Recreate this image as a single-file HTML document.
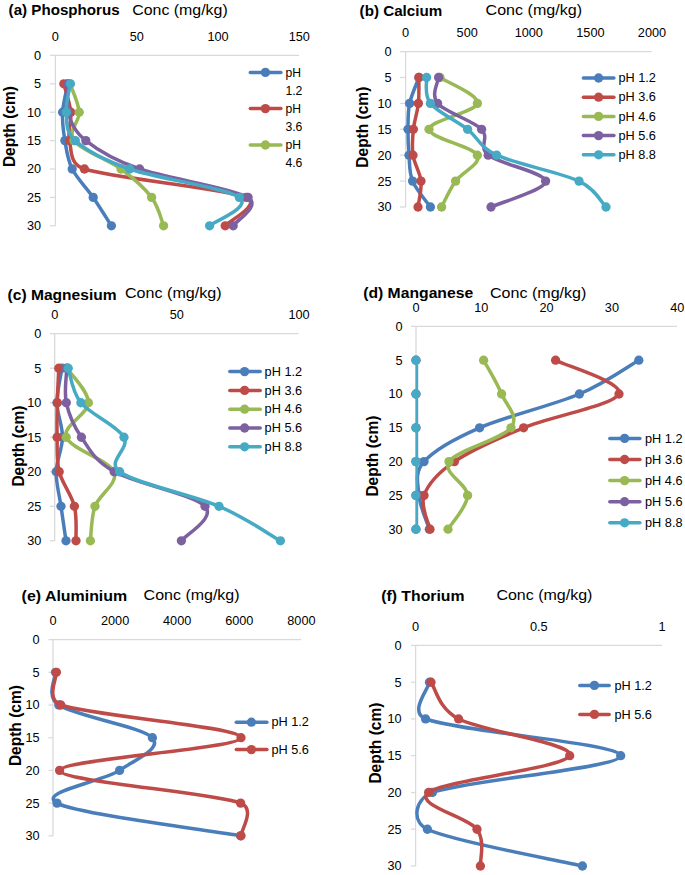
<!DOCTYPE html>
<html><head><meta charset="utf-8"><title>Soil profiles</title>
<style>
html,body{margin:0;padding:0;background:#fff;}
svg{display:block;font-family:"Liberation Sans",sans-serif;}
text{fill:#000;}
</style></head>
<body>
<svg width="685" height="875" viewBox="0 0 685 875">
<rect width="685" height="875" fill="#fff"/>
<text x="8.60" y="14.60" font-size="15.50" font-weight="bold" text-anchor="start" textLength="111.0" lengthAdjust="spacingAndGlyphs">(a) Phosphorus</text>
<text x="132.20" y="14.80" font-size="15.30" text-anchor="start" textLength="95.5" lengthAdjust="spacingAndGlyphs">Conc (mg/kg)</text>
<text x="55.40" y="41.00" font-size="13.50" text-anchor="middle" textLength="7.1" lengthAdjust="spacingAndGlyphs">0</text>
<text x="136.70" y="41.00" font-size="13.50" text-anchor="middle" textLength="14.1" lengthAdjust="spacingAndGlyphs">50</text>
<text x="218.00" y="41.00" font-size="13.50" text-anchor="middle" textLength="21.2" lengthAdjust="spacingAndGlyphs">100</text>
<text x="299.30" y="41.00" font-size="13.50" text-anchor="middle" textLength="21.2" lengthAdjust="spacingAndGlyphs">150</text>
<path d="M50.0,55.4H299.0" stroke="#D9D9D9" stroke-width="1.25" fill="none"/>
<path d="M55.4,55.4V225.8" stroke="#D9D9D9" stroke-width="1.25" fill="none"/>
<path d="M50.0,83.8H55.4" stroke="#D9D9D9" stroke-width="1.25" fill="none"/>
<path d="M50.0,112.2H55.4" stroke="#D9D9D9" stroke-width="1.25" fill="none"/>
<path d="M50.0,140.6H55.4" stroke="#D9D9D9" stroke-width="1.25" fill="none"/>
<path d="M50.0,169.0H55.4" stroke="#D9D9D9" stroke-width="1.25" fill="none"/>
<path d="M50.0,197.4H55.4" stroke="#D9D9D9" stroke-width="1.25" fill="none"/>
<path d="M50.0,225.8H55.4" stroke="#D9D9D9" stroke-width="1.25" fill="none"/>
<text x="41.00" y="59.80" font-size="13.50" text-anchor="end" textLength="7.1" lengthAdjust="spacingAndGlyphs">0</text>
<text x="41.00" y="88.20" font-size="13.50" text-anchor="end" textLength="7.1" lengthAdjust="spacingAndGlyphs">5</text>
<text x="41.00" y="116.60" font-size="13.50" text-anchor="end" textLength="14.1" lengthAdjust="spacingAndGlyphs">10</text>
<text x="41.00" y="145.00" font-size="13.50" text-anchor="end" textLength="14.1" lengthAdjust="spacingAndGlyphs">15</text>
<text x="41.00" y="173.40" font-size="13.50" text-anchor="end" textLength="14.1" lengthAdjust="spacingAndGlyphs">20</text>
<text x="41.00" y="201.80" font-size="13.50" text-anchor="end" textLength="14.1" lengthAdjust="spacingAndGlyphs">25</text>
<text x="41.00" y="230.20" font-size="13.50" text-anchor="end" textLength="14.1" lengthAdjust="spacingAndGlyphs">30</text>
<text transform="translate(14.90,126.60) rotate(-90)" x="0" y="0" font-size="16.50" font-weight="bold" text-anchor="middle" textLength="81" lengthAdjust="spacingAndGlyphs">Depth (cm)</text>
<path d="M68.00,83.80 C67.10,88.53 63.12,102.73 62.60,112.20 C62.08,121.67 63.30,131.13 64.90,140.60 C66.50,150.07 67.48,159.53 72.20,169.00 C76.92,178.47 86.67,187.93 93.20,197.40 C99.73,206.87 108.37,221.07 111.40,225.80" stroke="#4A7EBB" stroke-width="3.50" fill="none" stroke-linejoin="round" stroke-linecap="round"/>
<circle cx="68.00" cy="83.80" r="4.65" fill="#4A7EBB"/>
<circle cx="62.60" cy="112.20" r="4.65" fill="#4A7EBB"/>
<circle cx="64.90" cy="140.60" r="4.65" fill="#4A7EBB"/>
<circle cx="72.20" cy="169.00" r="4.65" fill="#4A7EBB"/>
<circle cx="93.20" cy="197.40" r="4.65" fill="#4A7EBB"/>
<circle cx="111.40" cy="225.80" r="4.65" fill="#4A7EBB"/>
<path d="M63.80,83.80 C64.97,88.53 69.85,102.73 70.80,112.20 C71.75,121.67 67.23,131.13 69.50,140.60 C71.77,150.07 69.13,164.10 84.40,169.00 C113.87,178.47 222.83,187.93 246.30,197.40 C262.71,204.02 228.72,221.07 225.20,225.80" stroke="#BE4B48" stroke-width="3.50" fill="none" stroke-linejoin="round" stroke-linecap="round"/>
<circle cx="63.80" cy="83.80" r="4.65" fill="#BE4B48"/>
<circle cx="70.80" cy="112.20" r="4.65" fill="#BE4B48"/>
<circle cx="69.50" cy="140.60" r="4.65" fill="#BE4B48"/>
<circle cx="84.40" cy="169.00" r="4.65" fill="#BE4B48"/>
<circle cx="246.30" cy="197.40" r="4.65" fill="#BE4B48"/>
<circle cx="225.20" cy="225.80" r="4.65" fill="#BE4B48"/>
<path d="M70.00,83.80 C71.53,88.53 78.53,102.73 79.20,112.20 C79.87,121.67 67.03,131.13 74.00,140.60 C80.97,150.07 108.07,159.53 121.00,169.00 C133.93,178.47 144.50,187.93 151.60,197.40 C158.70,206.87 161.60,221.07 163.60,225.80" stroke="#98B954" stroke-width="3.50" fill="none" stroke-linejoin="round" stroke-linecap="round"/>
<circle cx="70.00" cy="83.80" r="4.65" fill="#98B954"/>
<circle cx="79.20" cy="112.20" r="4.65" fill="#98B954"/>
<circle cx="74.00" cy="140.60" r="4.65" fill="#98B954"/>
<circle cx="121.00" cy="169.00" r="4.65" fill="#98B954"/>
<circle cx="151.60" cy="197.40" r="4.65" fill="#98B954"/>
<circle cx="163.60" cy="225.80" r="4.65" fill="#98B954"/>
<path d="M68.00,83.80 C68.00,88.53 65.03,102.73 68.00,112.20 C70.97,121.67 73.87,131.13 85.80,140.60 C97.73,150.07 112.55,159.53 139.60,169.00 C166.65,178.47 232.50,187.93 248.10,197.40 C261.81,205.72 235.68,221.07 233.20,225.80" stroke="#7D60A0" stroke-width="3.50" fill="none" stroke-linejoin="round" stroke-linecap="round"/>
<circle cx="68.00" cy="83.80" r="4.65" fill="#7D60A0"/>
<circle cx="68.00" cy="112.20" r="4.65" fill="#7D60A0"/>
<circle cx="85.80" cy="140.60" r="4.65" fill="#7D60A0"/>
<circle cx="139.60" cy="169.00" r="4.65" fill="#7D60A0"/>
<circle cx="248.10" cy="197.40" r="4.65" fill="#7D60A0"/>
<circle cx="233.20" cy="225.80" r="4.65" fill="#7D60A0"/>
<path d="M70.40,83.80 C69.73,88.53 65.58,102.73 66.40,112.20 C67.22,121.67 64.77,131.13 75.30,140.60 C85.83,150.07 102.27,159.53 129.60,169.00 C156.93,178.47 225.97,187.93 239.30,197.40 C252.63,206.87 214.55,221.07 209.60,225.80" stroke="#46AAC5" stroke-width="3.50" fill="none" stroke-linejoin="round" stroke-linecap="round"/>
<circle cx="70.40" cy="83.80" r="4.65" fill="#46AAC5"/>
<circle cx="66.40" cy="112.20" r="4.65" fill="#46AAC5"/>
<circle cx="75.30" cy="140.60" r="4.65" fill="#46AAC5"/>
<circle cx="129.60" cy="169.00" r="4.65" fill="#46AAC5"/>
<circle cx="239.30" cy="197.40" r="4.65" fill="#46AAC5"/>
<circle cx="209.60" cy="225.80" r="4.65" fill="#46AAC5"/>
<path d="M250.3,72.4H280.9" stroke="#4A7EBB" stroke-width="3.50" fill="none" stroke-linecap="round"/>
<circle cx="265.40" cy="72.40" r="4.65" fill="#4A7EBB"/>
<text x="285.40" y="76.50" font-size="13.00" text-anchor="start" textLength="15.5" lengthAdjust="spacingAndGlyphs">pH</text>
<text x="285.40" y="94.65" font-size="13.00" text-anchor="start" textLength="17.0" lengthAdjust="spacingAndGlyphs">1.2</text>
<path d="M250.3,108.6H280.9" stroke="#BE4B48" stroke-width="3.50" fill="none" stroke-linecap="round"/>
<circle cx="265.40" cy="108.60" r="4.65" fill="#BE4B48"/>
<text x="285.40" y="112.70" font-size="13.00" text-anchor="start" textLength="15.5" lengthAdjust="spacingAndGlyphs">pH</text>
<text x="285.40" y="130.85" font-size="13.00" text-anchor="start" textLength="17.0" lengthAdjust="spacingAndGlyphs">3.6</text>
<path d="M250.3,145.0H280.9" stroke="#98B954" stroke-width="3.50" fill="none" stroke-linecap="round"/>
<circle cx="265.40" cy="145.00" r="4.65" fill="#98B954"/>
<text x="285.40" y="149.10" font-size="13.00" text-anchor="start" textLength="15.5" lengthAdjust="spacingAndGlyphs">pH</text>
<text x="285.40" y="167.25" font-size="13.00" text-anchor="start" textLength="17.0" lengthAdjust="spacingAndGlyphs">4.6</text>
<text x="359.60" y="15.90" font-size="15.50" font-weight="bold" text-anchor="start" textLength="82.6" lengthAdjust="spacingAndGlyphs">(b) Calcium</text>
<text x="485.60" y="15.00" font-size="15.30" text-anchor="start" textLength="96.4" lengthAdjust="spacingAndGlyphs">Conc (mg/kg)</text>
<text x="405.60" y="37.00" font-size="13.50" text-anchor="middle" textLength="7.1" lengthAdjust="spacingAndGlyphs">0</text>
<text x="467.20" y="37.00" font-size="13.50" text-anchor="middle" textLength="21.2" lengthAdjust="spacingAndGlyphs">500</text>
<text x="528.80" y="37.00" font-size="13.50" text-anchor="middle" textLength="28.3" lengthAdjust="spacingAndGlyphs">1000</text>
<text x="590.40" y="37.00" font-size="13.50" text-anchor="middle" textLength="28.3" lengthAdjust="spacingAndGlyphs">1500</text>
<text x="652.00" y="37.00" font-size="13.50" text-anchor="middle" textLength="28.3" lengthAdjust="spacingAndGlyphs">2000</text>
<path d="M400.0,51.6H651.6" stroke="#D9D9D9" stroke-width="1.25" fill="none"/>
<path d="M405.6,51.6V207.0" stroke="#D9D9D9" stroke-width="1.25" fill="none"/>
<path d="M400.0,77.5H405.6" stroke="#D9D9D9" stroke-width="1.25" fill="none"/>
<path d="M400.0,103.4H405.6" stroke="#D9D9D9" stroke-width="1.25" fill="none"/>
<path d="M400.0,129.3H405.6" stroke="#D9D9D9" stroke-width="1.25" fill="none"/>
<path d="M400.0,155.2H405.6" stroke="#D9D9D9" stroke-width="1.25" fill="none"/>
<path d="M400.0,181.1H405.6" stroke="#D9D9D9" stroke-width="1.25" fill="none"/>
<path d="M400.0,207.0H405.6" stroke="#D9D9D9" stroke-width="1.25" fill="none"/>
<text x="391.60" y="56.00" font-size="13.50" text-anchor="end" textLength="7.1" lengthAdjust="spacingAndGlyphs">0</text>
<text x="391.60" y="81.90" font-size="13.50" text-anchor="end" textLength="7.1" lengthAdjust="spacingAndGlyphs">5</text>
<text x="391.60" y="107.80" font-size="13.50" text-anchor="end" textLength="14.1" lengthAdjust="spacingAndGlyphs">10</text>
<text x="391.60" y="133.70" font-size="13.50" text-anchor="end" textLength="14.1" lengthAdjust="spacingAndGlyphs">15</text>
<text x="391.60" y="159.60" font-size="13.50" text-anchor="end" textLength="14.1" lengthAdjust="spacingAndGlyphs">20</text>
<text x="391.60" y="185.50" font-size="13.50" text-anchor="end" textLength="14.1" lengthAdjust="spacingAndGlyphs">25</text>
<text x="391.60" y="211.40" font-size="13.50" text-anchor="end" textLength="14.1" lengthAdjust="spacingAndGlyphs">30</text>
<text transform="translate(367.60,127.20) rotate(-90)" x="0" y="0" font-size="16.50" font-weight="bold" text-anchor="middle" textLength="81" lengthAdjust="spacingAndGlyphs">Depth (cm)</text>
<path d="M419.00,77.50 C417.43,81.82 411.43,94.77 409.60,103.40 C407.77,112.03 408.10,120.67 408.00,129.30 C407.90,137.93 408.23,146.57 409.00,155.20 C409.77,163.83 409.03,172.47 412.60,181.10 C416.17,189.73 427.43,202.68 430.40,207.00" stroke="#4A7EBB" stroke-width="3.50" fill="none" stroke-linejoin="round" stroke-linecap="round"/>
<circle cx="419.00" cy="77.50" r="4.65" fill="#4A7EBB"/>
<circle cx="409.60" cy="103.40" r="4.65" fill="#4A7EBB"/>
<circle cx="408.00" cy="129.30" r="4.65" fill="#4A7EBB"/>
<circle cx="409.00" cy="155.20" r="4.65" fill="#4A7EBB"/>
<circle cx="412.60" cy="181.10" r="4.65" fill="#4A7EBB"/>
<circle cx="430.40" cy="207.00" r="4.65" fill="#4A7EBB"/>
<path d="M418.80,77.50 C418.73,81.82 419.30,94.77 418.40,103.40 C417.50,112.03 414.30,120.67 413.40,129.30 C412.50,137.93 411.73,146.57 413.00,155.20 C414.27,163.83 420.17,172.47 421.00,181.10 C421.83,189.73 418.50,202.68 418.00,207.00" stroke="#BE4B48" stroke-width="3.50" fill="none" stroke-linejoin="round" stroke-linecap="round"/>
<circle cx="418.80" cy="77.50" r="4.65" fill="#BE4B48"/>
<circle cx="418.40" cy="103.40" r="4.65" fill="#BE4B48"/>
<circle cx="413.40" cy="129.30" r="4.65" fill="#BE4B48"/>
<circle cx="413.00" cy="155.20" r="4.65" fill="#BE4B48"/>
<circle cx="421.00" cy="181.10" r="4.65" fill="#BE4B48"/>
<circle cx="418.00" cy="207.00" r="4.65" fill="#BE4B48"/>
<path d="M440.00,77.50 C446.23,81.82 479.23,94.77 477.40,103.40 C475.57,112.03 429.00,120.67 429.00,129.30 C429.00,137.93 472.97,146.57 477.40,155.20 C481.83,163.83 461.57,172.47 455.60,181.10 C449.63,189.73 443.93,202.68 441.60,207.00" stroke="#98B954" stroke-width="3.50" fill="none" stroke-linejoin="round" stroke-linecap="round"/>
<circle cx="440.00" cy="77.50" r="4.65" fill="#98B954"/>
<circle cx="477.40" cy="103.40" r="4.65" fill="#98B954"/>
<circle cx="429.00" cy="129.30" r="4.65" fill="#98B954"/>
<circle cx="477.40" cy="155.20" r="4.65" fill="#98B954"/>
<circle cx="455.60" cy="181.10" r="4.65" fill="#98B954"/>
<circle cx="441.60" cy="207.00" r="4.65" fill="#98B954"/>
<path d="M438.60,77.50 C438.43,81.82 430.43,94.77 437.60,103.40 C444.77,112.03 473.17,120.67 481.60,129.30 C490.03,137.93 477.81,146.79 488.20,155.20 C498.87,163.83 545.13,172.47 545.60,181.10 C546.07,189.73 500.10,202.68 491.00,207.00" stroke="#7D60A0" stroke-width="3.50" fill="none" stroke-linejoin="round" stroke-linecap="round"/>
<circle cx="438.60" cy="77.50" r="4.65" fill="#7D60A0"/>
<circle cx="437.60" cy="103.40" r="4.65" fill="#7D60A0"/>
<circle cx="481.60" cy="129.30" r="4.65" fill="#7D60A0"/>
<circle cx="488.20" cy="155.20" r="4.65" fill="#7D60A0"/>
<circle cx="545.60" cy="181.10" r="4.65" fill="#7D60A0"/>
<circle cx="491.00" cy="207.00" r="4.65" fill="#7D60A0"/>
<path d="M426.60,77.50 C427.23,81.82 423.57,94.77 430.40,103.40 C437.23,112.03 456.55,120.67 467.60,129.30 C478.65,137.93 479.04,146.99 496.70,155.20 C515.27,163.83 560.78,172.47 579.00,181.10 C595.90,189.11 601.50,202.68 606.00,207.00" stroke="#46AAC5" stroke-width="3.50" fill="none" stroke-linejoin="round" stroke-linecap="round"/>
<circle cx="426.60" cy="77.50" r="4.65" fill="#46AAC5"/>
<circle cx="430.40" cy="103.40" r="4.65" fill="#46AAC5"/>
<circle cx="467.60" cy="129.30" r="4.65" fill="#46AAC5"/>
<circle cx="496.70" cy="155.20" r="4.65" fill="#46AAC5"/>
<circle cx="579.00" cy="181.10" r="4.65" fill="#46AAC5"/>
<circle cx="606.00" cy="207.00" r="4.65" fill="#46AAC5"/>
<path d="M583.4,78.0H613.9" stroke="#4A7EBB" stroke-width="3.50" fill="none" stroke-linecap="round"/>
<circle cx="598.60" cy="78.00" r="4.65" fill="#4A7EBB"/>
<text x="618.40" y="82.10" font-size="13.00" text-anchor="start" textLength="37.5" lengthAdjust="spacingAndGlyphs">pH 1.2</text>
<path d="M583.4,97.2H613.9" stroke="#BE4B48" stroke-width="3.50" fill="none" stroke-linecap="round"/>
<circle cx="598.60" cy="97.20" r="4.65" fill="#BE4B48"/>
<text x="618.40" y="101.30" font-size="13.00" text-anchor="start" textLength="37.5" lengthAdjust="spacingAndGlyphs">pH 3.6</text>
<path d="M583.4,116.4H613.9" stroke="#98B954" stroke-width="3.50" fill="none" stroke-linecap="round"/>
<circle cx="598.60" cy="116.40" r="4.65" fill="#98B954"/>
<text x="618.40" y="120.50" font-size="13.00" text-anchor="start" textLength="37.5" lengthAdjust="spacingAndGlyphs">pH 4.6</text>
<path d="M583.4,135.6H613.9" stroke="#7D60A0" stroke-width="3.50" fill="none" stroke-linecap="round"/>
<circle cx="598.60" cy="135.60" r="4.65" fill="#7D60A0"/>
<text x="618.40" y="139.70" font-size="13.00" text-anchor="start" textLength="37.5" lengthAdjust="spacingAndGlyphs">pH 5.6</text>
<path d="M583.4,154.8H613.9" stroke="#46AAC5" stroke-width="3.50" fill="none" stroke-linecap="round"/>
<circle cx="598.60" cy="154.80" r="4.65" fill="#46AAC5"/>
<text x="618.40" y="158.90" font-size="13.00" text-anchor="start" textLength="37.5" lengthAdjust="spacingAndGlyphs">pH 8.8</text>
<text x="7.60" y="299.90" font-size="15.50" font-weight="bold" text-anchor="start" textLength="109.0" lengthAdjust="spacingAndGlyphs">(c) Magnesium</text>
<text x="125.00" y="298.00" font-size="15.30" text-anchor="start" textLength="96.6" lengthAdjust="spacingAndGlyphs">Conc (mg/kg)</text>
<text x="54.70" y="319.00" font-size="13.50" text-anchor="middle" textLength="7.1" lengthAdjust="spacingAndGlyphs">0</text>
<text x="176.80" y="319.00" font-size="13.50" text-anchor="middle" textLength="14.1" lengthAdjust="spacingAndGlyphs">50</text>
<text x="299.00" y="319.00" font-size="13.50" text-anchor="middle" textLength="21.2" lengthAdjust="spacingAndGlyphs">100</text>
<path d="M50.0,333.7H298.6" stroke="#D9D9D9" stroke-width="1.25" fill="none"/>
<path d="M54.7,333.7V540.8" stroke="#D9D9D9" stroke-width="1.25" fill="none"/>
<path d="M50.0,368.2H54.7" stroke="#D9D9D9" stroke-width="1.25" fill="none"/>
<path d="M50.0,402.7H54.7" stroke="#D9D9D9" stroke-width="1.25" fill="none"/>
<path d="M50.0,437.2H54.7" stroke="#D9D9D9" stroke-width="1.25" fill="none"/>
<path d="M50.0,471.8H54.7" stroke="#D9D9D9" stroke-width="1.25" fill="none"/>
<path d="M50.0,506.3H54.7" stroke="#D9D9D9" stroke-width="1.25" fill="none"/>
<path d="M50.0,540.8H54.7" stroke="#D9D9D9" stroke-width="1.25" fill="none"/>
<text x="41.30" y="338.10" font-size="13.50" text-anchor="end" textLength="7.1" lengthAdjust="spacingAndGlyphs">0</text>
<text x="41.30" y="372.62" font-size="13.50" text-anchor="end" textLength="7.1" lengthAdjust="spacingAndGlyphs">5</text>
<text x="41.30" y="407.13" font-size="13.50" text-anchor="end" textLength="14.1" lengthAdjust="spacingAndGlyphs">10</text>
<text x="41.30" y="441.65" font-size="13.50" text-anchor="end" textLength="14.1" lengthAdjust="spacingAndGlyphs">15</text>
<text x="41.30" y="476.17" font-size="13.50" text-anchor="end" textLength="14.1" lengthAdjust="spacingAndGlyphs">20</text>
<text x="41.30" y="510.68" font-size="13.50" text-anchor="end" textLength="14.1" lengthAdjust="spacingAndGlyphs">25</text>
<text x="41.30" y="545.20" font-size="13.50" text-anchor="end" textLength="14.1" lengthAdjust="spacingAndGlyphs">30</text>
<text transform="translate(23.50,446.10) rotate(-90)" x="0" y="0" font-size="16.50" font-weight="bold" text-anchor="middle" textLength="81" lengthAdjust="spacingAndGlyphs">Depth (cm)</text>
<path d="M62.00,368.22 C61.17,373.97 56.92,391.23 57.00,402.73 C57.08,414.24 62.63,425.74 62.50,437.25 C62.37,448.76 56.45,460.26 56.20,471.77 C55.95,483.27 59.37,494.78 61.00,506.28 C62.63,517.79 65.17,535.05 66.00,540.80" stroke="#4A7EBB" stroke-width="3.50" fill="none" stroke-linejoin="round" stroke-linecap="round"/>
<circle cx="62.00" cy="368.22" r="4.65" fill="#4A7EBB"/>
<circle cx="57.00" cy="402.73" r="4.65" fill="#4A7EBB"/>
<circle cx="62.50" cy="437.25" r="4.65" fill="#4A7EBB"/>
<circle cx="56.20" cy="471.77" r="4.65" fill="#4A7EBB"/>
<circle cx="61.00" cy="506.28" r="4.65" fill="#4A7EBB"/>
<circle cx="66.00" cy="540.80" r="4.65" fill="#4A7EBB"/>
<path d="M58.80,368.22 C58.55,373.97 57.58,391.23 57.30,402.73 C57.02,414.24 56.78,425.74 57.10,437.25 C57.42,448.76 56.32,460.26 59.20,471.77 C62.08,483.27 71.60,494.78 74.40,506.28 C77.20,517.79 75.73,535.05 76.00,540.80" stroke="#BE4B48" stroke-width="3.50" fill="none" stroke-linejoin="round" stroke-linecap="round"/>
<circle cx="58.80" cy="368.22" r="4.65" fill="#BE4B48"/>
<circle cx="57.30" cy="402.73" r="4.65" fill="#BE4B48"/>
<circle cx="57.10" cy="437.25" r="4.65" fill="#BE4B48"/>
<circle cx="59.20" cy="471.77" r="4.65" fill="#BE4B48"/>
<circle cx="74.40" cy="506.28" r="4.65" fill="#BE4B48"/>
<circle cx="76.00" cy="540.80" r="4.65" fill="#BE4B48"/>
<path d="M67.00,368.22 C70.57,373.97 88.53,391.23 88.40,402.73 C88.27,414.24 61.93,425.74 66.20,437.25 C70.47,448.76 109.20,460.26 114.00,471.77 C118.80,483.27 98.93,494.78 95.00,506.28 C91.07,517.79 91.17,535.05 90.40,540.80" stroke="#98B954" stroke-width="3.50" fill="none" stroke-linejoin="round" stroke-linecap="round"/>
<circle cx="67.00" cy="368.22" r="4.65" fill="#98B954"/>
<circle cx="88.40" cy="402.73" r="4.65" fill="#98B954"/>
<circle cx="66.20" cy="437.25" r="4.65" fill="#98B954"/>
<circle cx="114.00" cy="471.77" r="4.65" fill="#98B954"/>
<circle cx="95.00" cy="506.28" r="4.65" fill="#98B954"/>
<circle cx="90.40" cy="540.80" r="4.65" fill="#98B954"/>
<path d="M66.80,368.22 C66.72,373.97 63.87,391.23 66.30,402.73 C68.73,414.24 73.38,425.74 81.40,437.25 C89.42,448.76 93.80,460.26 114.40,471.77 C135.00,483.27 193.83,494.78 205.00,506.28 C216.17,517.79 185.33,535.05 181.40,540.80" stroke="#7D60A0" stroke-width="3.50" fill="none" stroke-linejoin="round" stroke-linecap="round"/>
<circle cx="66.80" cy="368.22" r="4.65" fill="#7D60A0"/>
<circle cx="66.30" cy="402.73" r="4.65" fill="#7D60A0"/>
<circle cx="81.40" cy="437.25" r="4.65" fill="#7D60A0"/>
<circle cx="114.40" cy="471.77" r="4.65" fill="#7D60A0"/>
<circle cx="205.00" cy="506.28" r="4.65" fill="#7D60A0"/>
<circle cx="181.40" cy="540.80" r="4.65" fill="#7D60A0"/>
<path d="M68.20,368.22 C70.32,373.97 71.60,391.23 80.90,402.73 C90.20,414.24 117.55,425.74 124.00,437.25 C130.45,448.76 105.53,461.54 119.60,471.77 C135.43,483.27 192.20,494.78 219.00,506.28 C245.80,517.79 270.17,535.05 280.40,540.80" stroke="#46AAC5" stroke-width="3.50" fill="none" stroke-linejoin="round" stroke-linecap="round"/>
<circle cx="68.20" cy="368.22" r="4.65" fill="#46AAC5"/>
<circle cx="80.90" cy="402.73" r="4.65" fill="#46AAC5"/>
<circle cx="124.00" cy="437.25" r="4.65" fill="#46AAC5"/>
<circle cx="119.60" cy="471.77" r="4.65" fill="#46AAC5"/>
<circle cx="219.00" cy="506.28" r="4.65" fill="#46AAC5"/>
<circle cx="280.40" cy="540.80" r="4.65" fill="#46AAC5"/>
<path d="M229.8,371.6H260.2" stroke="#4A7EBB" stroke-width="3.50" fill="none" stroke-linecap="round"/>
<circle cx="244.60" cy="371.60" r="4.65" fill="#4A7EBB"/>
<text x="264.60" y="375.70" font-size="13.00" text-anchor="start" textLength="37.5" lengthAdjust="spacingAndGlyphs">pH 1.2</text>
<path d="M229.8,390.4H260.2" stroke="#BE4B48" stroke-width="3.50" fill="none" stroke-linecap="round"/>
<circle cx="244.60" cy="390.40" r="4.65" fill="#BE4B48"/>
<text x="264.60" y="394.50" font-size="13.00" text-anchor="start" textLength="37.5" lengthAdjust="spacingAndGlyphs">pH 3.6</text>
<path d="M229.8,409.2H260.2" stroke="#98B954" stroke-width="3.50" fill="none" stroke-linecap="round"/>
<circle cx="244.60" cy="409.20" r="4.65" fill="#98B954"/>
<text x="264.60" y="413.30" font-size="13.00" text-anchor="start" textLength="37.5" lengthAdjust="spacingAndGlyphs">pH 4.6</text>
<path d="M229.8,428.0H260.2" stroke="#7D60A0" stroke-width="3.50" fill="none" stroke-linecap="round"/>
<circle cx="244.60" cy="428.00" r="4.65" fill="#7D60A0"/>
<text x="264.60" y="432.10" font-size="13.00" text-anchor="start" textLength="37.5" lengthAdjust="spacingAndGlyphs">pH 5.6</text>
<path d="M229.8,446.8H260.2" stroke="#46AAC5" stroke-width="3.50" fill="none" stroke-linecap="round"/>
<circle cx="244.60" cy="446.80" r="4.65" fill="#46AAC5"/>
<text x="264.60" y="450.90" font-size="13.00" text-anchor="start" textLength="37.5" lengthAdjust="spacingAndGlyphs">pH 8.8</text>
<text x="363.20" y="298.30" font-size="15.50" font-weight="bold" text-anchor="start" textLength="110.0" lengthAdjust="spacingAndGlyphs">(d) Manganese</text>
<text x="490.00" y="297.60" font-size="15.30" text-anchor="start" textLength="96.4" lengthAdjust="spacingAndGlyphs">Conc (mg/kg)</text>
<text x="416.00" y="312.40" font-size="13.50" text-anchor="middle" textLength="7.1" lengthAdjust="spacingAndGlyphs">0</text>
<text x="481.30" y="312.40" font-size="13.50" text-anchor="middle" textLength="14.1" lengthAdjust="spacingAndGlyphs">10</text>
<text x="546.60" y="312.40" font-size="13.50" text-anchor="middle" textLength="14.1" lengthAdjust="spacingAndGlyphs">20</text>
<text x="611.90" y="312.40" font-size="13.50" text-anchor="middle" textLength="14.1" lengthAdjust="spacingAndGlyphs">30</text>
<text x="677.20" y="312.40" font-size="13.50" text-anchor="middle" textLength="14.1" lengthAdjust="spacingAndGlyphs">40</text>
<path d="M411.0,326.4H677.0" stroke="#D9D9D9" stroke-width="1.25" fill="none"/>
<path d="M416.0,326.4V529.2" stroke="#D9D9D9" stroke-width="1.25" fill="none"/>
<path d="M411.0,360.2H416.0" stroke="#D9D9D9" stroke-width="1.25" fill="none"/>
<path d="M411.0,394.0H416.0" stroke="#D9D9D9" stroke-width="1.25" fill="none"/>
<path d="M411.0,427.8H416.0" stroke="#D9D9D9" stroke-width="1.25" fill="none"/>
<path d="M411.0,461.6H416.0" stroke="#D9D9D9" stroke-width="1.25" fill="none"/>
<path d="M411.0,495.4H416.0" stroke="#D9D9D9" stroke-width="1.25" fill="none"/>
<path d="M411.0,529.2H416.0" stroke="#D9D9D9" stroke-width="1.25" fill="none"/>
<text x="402.60" y="330.80" font-size="13.50" text-anchor="end" textLength="7.1" lengthAdjust="spacingAndGlyphs">0</text>
<text x="402.60" y="364.60" font-size="13.50" text-anchor="end" textLength="7.1" lengthAdjust="spacingAndGlyphs">5</text>
<text x="402.60" y="398.40" font-size="13.50" text-anchor="end" textLength="14.1" lengthAdjust="spacingAndGlyphs">10</text>
<text x="402.60" y="432.20" font-size="13.50" text-anchor="end" textLength="14.1" lengthAdjust="spacingAndGlyphs">15</text>
<text x="402.60" y="466.00" font-size="13.50" text-anchor="end" textLength="14.1" lengthAdjust="spacingAndGlyphs">20</text>
<text x="402.60" y="499.80" font-size="13.50" text-anchor="end" textLength="14.1" lengthAdjust="spacingAndGlyphs">25</text>
<text x="402.60" y="533.60" font-size="13.50" text-anchor="end" textLength="14.1" lengthAdjust="spacingAndGlyphs">30</text>
<text transform="translate(378.30,456.10) rotate(-90)" x="0" y="0" font-size="16.50" font-weight="bold" text-anchor="middle" textLength="81" lengthAdjust="spacingAndGlyphs">Depth (cm)</text>
<path d="M638.80,360.20 C628.90,365.83 605.93,382.73 579.40,394.00 C552.87,405.27 505.50,416.53 479.60,427.80 C453.70,439.07 434.10,450.33 424.00,461.60 C413.90,472.87 418.12,484.13 419.00,495.40 C419.88,506.67 427.58,523.57 429.30,529.20" stroke="#4A7EBB" stroke-width="3.50" fill="none" stroke-linejoin="round" stroke-linecap="round"/>
<circle cx="638.80" cy="360.20" r="4.65" fill="#4A7EBB"/>
<circle cx="579.40" cy="394.00" r="4.65" fill="#4A7EBB"/>
<circle cx="479.60" cy="427.80" r="4.65" fill="#4A7EBB"/>
<circle cx="424.00" cy="461.60" r="4.65" fill="#4A7EBB"/>
<circle cx="419.00" cy="495.40" r="4.65" fill="#4A7EBB"/>
<circle cx="429.30" cy="529.20" r="4.65" fill="#4A7EBB"/>
<path d="M555.60,360.20 C566.17,365.83 624.33,382.73 619.00,394.00 C613.67,405.27 551.03,416.53 523.60,427.80 C496.17,439.07 471.00,450.33 454.40,461.60 C437.80,472.87 428.07,484.13 424.00,495.40 C419.93,506.67 429.00,523.57 430.00,529.20" stroke="#BE4B48" stroke-width="3.50" fill="none" stroke-linejoin="round" stroke-linecap="round"/>
<circle cx="555.60" cy="360.20" r="4.65" fill="#BE4B48"/>
<circle cx="619.00" cy="394.00" r="4.65" fill="#BE4B48"/>
<circle cx="523.60" cy="427.80" r="4.65" fill="#BE4B48"/>
<circle cx="454.40" cy="461.60" r="4.65" fill="#BE4B48"/>
<circle cx="424.00" cy="495.40" r="4.65" fill="#BE4B48"/>
<circle cx="430.00" cy="529.20" r="4.65" fill="#BE4B48"/>
<path d="M483.60,360.20 C486.60,365.83 497.03,382.73 501.60,394.00 C506.17,405.27 519.77,416.53 511.00,427.80 C502.23,439.07 456.23,450.33 449.00,461.60 C441.77,472.87 467.77,484.13 467.60,495.40 C467.43,506.67 451.27,523.57 448.00,529.20" stroke="#98B954" stroke-width="3.50" fill="none" stroke-linejoin="round" stroke-linecap="round"/>
<circle cx="483.60" cy="360.20" r="4.65" fill="#98B954"/>
<circle cx="501.60" cy="394.00" r="4.65" fill="#98B954"/>
<circle cx="511.00" cy="427.80" r="4.65" fill="#98B954"/>
<circle cx="449.00" cy="461.60" r="4.65" fill="#98B954"/>
<circle cx="467.60" cy="495.40" r="4.65" fill="#98B954"/>
<circle cx="448.00" cy="529.20" r="4.65" fill="#98B954"/>
<path d="M416.90,360.20 C416.90,365.83 416.90,382.73 416.90,394.00 C416.90,405.27 416.90,416.53 416.90,427.80 C416.90,439.07 416.90,450.33 416.90,461.60 C416.90,472.87 416.90,484.13 416.90,495.40 C416.90,506.67 416.90,523.57 416.90,529.20" stroke="#7D60A0" stroke-width="2.40" fill="none" stroke-linejoin="round" stroke-linecap="round"/>
<circle cx="416.00" cy="360.20" r="4.65" fill="#7D60A0"/>
<circle cx="416.00" cy="394.00" r="4.65" fill="#7D60A0"/>
<circle cx="416.00" cy="427.80" r="4.65" fill="#7D60A0"/>
<circle cx="416.00" cy="461.60" r="4.65" fill="#7D60A0"/>
<circle cx="416.00" cy="495.40" r="4.65" fill="#7D60A0"/>
<circle cx="416.00" cy="529.20" r="4.65" fill="#7D60A0"/>
<path d="M416.90,360.20 C416.90,365.83 416.90,382.73 416.90,394.00 C416.90,405.27 416.90,416.53 416.90,427.80 C416.90,439.07 416.90,450.33 416.90,461.60 C416.90,472.87 416.90,484.13 416.90,495.40 C416.90,506.67 416.90,523.57 416.90,529.20" stroke="#46AAC5" stroke-width="2.40" fill="none" stroke-linejoin="round" stroke-linecap="round"/>
<circle cx="415.90" cy="360.20" r="4.65" fill="#46AAC5"/>
<circle cx="415.90" cy="394.00" r="4.65" fill="#46AAC5"/>
<circle cx="415.90" cy="427.80" r="4.65" fill="#46AAC5"/>
<circle cx="415.90" cy="461.60" r="4.65" fill="#46AAC5"/>
<circle cx="415.90" cy="495.40" r="4.65" fill="#46AAC5"/>
<circle cx="415.90" cy="529.20" r="4.65" fill="#46AAC5"/>
<path d="M609.8,438.4H639.9" stroke="#4A7EBB" stroke-width="3.50" fill="none" stroke-linecap="round"/>
<circle cx="624.60" cy="438.40" r="4.65" fill="#4A7EBB"/>
<text x="645.00" y="442.50" font-size="13.00" text-anchor="start" textLength="37.5" lengthAdjust="spacingAndGlyphs">pH 1.2</text>
<path d="M609.8,459.5H639.9" stroke="#BE4B48" stroke-width="3.50" fill="none" stroke-linecap="round"/>
<circle cx="624.60" cy="459.50" r="4.65" fill="#BE4B48"/>
<text x="645.00" y="463.60" font-size="13.00" text-anchor="start" textLength="37.5" lengthAdjust="spacingAndGlyphs">pH 3.6</text>
<path d="M609.8,480.6H639.9" stroke="#98B954" stroke-width="3.50" fill="none" stroke-linecap="round"/>
<circle cx="624.60" cy="480.60" r="4.65" fill="#98B954"/>
<text x="645.00" y="484.70" font-size="13.00" text-anchor="start" textLength="37.5" lengthAdjust="spacingAndGlyphs">pH 4.6</text>
<path d="M609.8,501.7H639.9" stroke="#7D60A0" stroke-width="3.50" fill="none" stroke-linecap="round"/>
<circle cx="624.60" cy="501.70" r="4.65" fill="#7D60A0"/>
<text x="645.00" y="505.80" font-size="13.00" text-anchor="start" textLength="37.5" lengthAdjust="spacingAndGlyphs">pH 5.6</text>
<path d="M609.8,522.8H639.9" stroke="#46AAC5" stroke-width="3.50" fill="none" stroke-linecap="round"/>
<circle cx="624.60" cy="522.80" r="4.65" fill="#46AAC5"/>
<text x="645.00" y="526.90" font-size="13.00" text-anchor="start" textLength="37.5" lengthAdjust="spacingAndGlyphs">pH 8.8</text>
<text x="21.60" y="600.60" font-size="15.50" font-weight="bold" text-anchor="start" textLength="105.6" lengthAdjust="spacingAndGlyphs">(e) Aluminium</text>
<text x="143.60" y="600.40" font-size="15.30" text-anchor="start" textLength="96.0" lengthAdjust="spacingAndGlyphs">Conc (mg/kg)</text>
<text x="53.00" y="625.00" font-size="13.50" text-anchor="middle" textLength="7.1" lengthAdjust="spacingAndGlyphs">0</text>
<text x="115.10" y="625.00" font-size="13.50" text-anchor="middle" textLength="28.3" lengthAdjust="spacingAndGlyphs">2000</text>
<text x="177.20" y="625.00" font-size="13.50" text-anchor="middle" textLength="28.3" lengthAdjust="spacingAndGlyphs">4000</text>
<text x="239.30" y="625.00" font-size="13.50" text-anchor="middle" textLength="28.3" lengthAdjust="spacingAndGlyphs">6000</text>
<text x="301.40" y="625.00" font-size="13.50" text-anchor="middle" textLength="28.3" lengthAdjust="spacingAndGlyphs">8000</text>
<path d="M48.5,639.6H301.0" stroke="#D9D9D9" stroke-width="1.25" fill="none"/>
<path d="M53.0,639.6V835.8" stroke="#D9D9D9" stroke-width="1.25" fill="none"/>
<path d="M48.5,672.3H53.0" stroke="#D9D9D9" stroke-width="1.25" fill="none"/>
<path d="M48.5,705.0H53.0" stroke="#D9D9D9" stroke-width="1.25" fill="none"/>
<path d="M48.5,737.7H53.0" stroke="#D9D9D9" stroke-width="1.25" fill="none"/>
<path d="M48.5,770.4H53.0" stroke="#D9D9D9" stroke-width="1.25" fill="none"/>
<path d="M48.5,803.1H53.0" stroke="#D9D9D9" stroke-width="1.25" fill="none"/>
<path d="M48.5,835.8H53.0" stroke="#D9D9D9" stroke-width="1.25" fill="none"/>
<text x="39.50" y="644.00" font-size="13.50" text-anchor="end" textLength="7.1" lengthAdjust="spacingAndGlyphs">0</text>
<text x="39.50" y="676.70" font-size="13.50" text-anchor="end" textLength="7.1" lengthAdjust="spacingAndGlyphs">5</text>
<text x="39.50" y="709.40" font-size="13.50" text-anchor="end" textLength="14.1" lengthAdjust="spacingAndGlyphs">10</text>
<text x="39.50" y="742.10" font-size="13.50" text-anchor="end" textLength="14.1" lengthAdjust="spacingAndGlyphs">15</text>
<text x="39.50" y="774.80" font-size="13.50" text-anchor="end" textLength="14.1" lengthAdjust="spacingAndGlyphs">20</text>
<text x="39.50" y="807.50" font-size="13.50" text-anchor="end" textLength="14.1" lengthAdjust="spacingAndGlyphs">25</text>
<text x="39.50" y="840.20" font-size="13.50" text-anchor="end" textLength="14.1" lengthAdjust="spacingAndGlyphs">30</text>
<text transform="translate(20.80,725.60) rotate(-90)" x="0" y="0" font-size="16.50" font-weight="bold" text-anchor="middle" textLength="81" lengthAdjust="spacingAndGlyphs">Depth (cm)</text>
<path d="M55.50,672.30 C56.05,677.75 45.18,695.81 58.80,705.00 C74.95,715.90 142.27,726.80 152.40,737.70 C162.53,748.60 135.50,759.50 119.60,770.40 C103.70,781.30 36.85,792.20 57.00,803.10 C77.15,814.00 209.92,830.35 240.50,835.80" stroke="#4A7EBB" stroke-width="3.50" fill="none" stroke-linejoin="round" stroke-linecap="round"/>
<circle cx="55.50" cy="672.30" r="4.65" fill="#4A7EBB"/>
<circle cx="58.80" cy="705.00" r="4.65" fill="#4A7EBB"/>
<circle cx="152.40" cy="737.70" r="4.65" fill="#4A7EBB"/>
<circle cx="119.60" cy="770.40" r="4.65" fill="#4A7EBB"/>
<circle cx="57.00" cy="803.10" r="4.65" fill="#4A7EBB"/>
<circle cx="240.50" cy="835.80" r="4.65" fill="#4A7EBB"/>
<path d="M56.40,672.30 C57.13,677.75 45.25,699.49 60.80,705.00 C91.57,715.90 241.20,726.80 241.00,737.70 C240.80,748.60 59.67,759.50 59.60,770.40 C59.53,781.30 210.37,792.20 240.60,803.10 C255.98,808.65 240.93,830.35 241.00,835.80" stroke="#BE4B48" stroke-width="3.50" fill="none" stroke-linejoin="round" stroke-linecap="round"/>
<circle cx="56.40" cy="672.30" r="4.65" fill="#BE4B48"/>
<circle cx="60.80" cy="705.00" r="4.65" fill="#BE4B48"/>
<circle cx="241.00" cy="737.70" r="4.65" fill="#BE4B48"/>
<circle cx="59.60" cy="770.40" r="4.65" fill="#BE4B48"/>
<circle cx="240.60" cy="803.10" r="4.65" fill="#BE4B48"/>
<circle cx="241.00" cy="835.80" r="4.65" fill="#BE4B48"/>
<path d="M236.3,722.2H266.9" stroke="#4A7EBB" stroke-width="3.50" fill="none" stroke-linecap="round"/>
<circle cx="251.40" cy="722.20" r="4.65" fill="#4A7EBB"/>
<text x="271.40" y="726.30" font-size="13.00" text-anchor="start" textLength="37.5" lengthAdjust="spacingAndGlyphs">pH 1.2</text>
<path d="M236.3,749.6H266.9" stroke="#BE4B48" stroke-width="3.50" fill="none" stroke-linecap="round"/>
<circle cx="251.40" cy="749.60" r="4.65" fill="#BE4B48"/>
<text x="271.40" y="753.70" font-size="13.00" text-anchor="start" textLength="37.5" lengthAdjust="spacingAndGlyphs">pH 5.6</text>
<text x="381.20" y="600.60" font-size="15.50" font-weight="bold" text-anchor="start" textLength="83.4" lengthAdjust="spacingAndGlyphs">(f) Thorium</text>
<text x="496.40" y="600.40" font-size="15.30" text-anchor="start" textLength="96.0" lengthAdjust="spacingAndGlyphs">Conc (mg/kg)</text>
<text x="415.60" y="631.00" font-size="13.50" text-anchor="middle" textLength="7.1" lengthAdjust="spacingAndGlyphs">0</text>
<text x="538.80" y="631.00" font-size="13.50" text-anchor="middle" textLength="17.8" lengthAdjust="spacingAndGlyphs">0.5</text>
<text x="662.00" y="631.00" font-size="13.50" text-anchor="middle" textLength="7.1" lengthAdjust="spacingAndGlyphs">1</text>
<path d="M411.0,645.4H662.0" stroke="#D9D9D9" stroke-width="1.25" fill="none"/>
<path d="M415.6,645.4V866.0" stroke="#D9D9D9" stroke-width="1.25" fill="none"/>
<path d="M411.0,682.2H415.6" stroke="#D9D9D9" stroke-width="1.25" fill="none"/>
<path d="M411.0,718.9H415.6" stroke="#D9D9D9" stroke-width="1.25" fill="none"/>
<path d="M411.0,755.7H415.6" stroke="#D9D9D9" stroke-width="1.25" fill="none"/>
<path d="M411.0,792.5H415.6" stroke="#D9D9D9" stroke-width="1.25" fill="none"/>
<path d="M411.0,829.2H415.6" stroke="#D9D9D9" stroke-width="1.25" fill="none"/>
<path d="M411.0,866.0H415.6" stroke="#D9D9D9" stroke-width="1.25" fill="none"/>
<text x="401.50" y="649.80" font-size="13.50" text-anchor="end" textLength="7.1" lengthAdjust="spacingAndGlyphs">0</text>
<text x="401.50" y="686.57" font-size="13.50" text-anchor="end" textLength="7.1" lengthAdjust="spacingAndGlyphs">5</text>
<text x="401.50" y="723.33" font-size="13.50" text-anchor="end" textLength="14.1" lengthAdjust="spacingAndGlyphs">10</text>
<text x="401.50" y="760.10" font-size="13.50" text-anchor="end" textLength="14.1" lengthAdjust="spacingAndGlyphs">15</text>
<text x="401.50" y="796.87" font-size="13.50" text-anchor="end" textLength="14.1" lengthAdjust="spacingAndGlyphs">20</text>
<text x="401.50" y="833.63" font-size="13.50" text-anchor="end" textLength="14.1" lengthAdjust="spacingAndGlyphs">25</text>
<text x="401.50" y="870.40" font-size="13.50" text-anchor="end" textLength="14.1" lengthAdjust="spacingAndGlyphs">30</text>
<text transform="translate(381.20,743.10) rotate(-90)" x="0" y="0" font-size="16.50" font-weight="bold" text-anchor="middle" textLength="81" lengthAdjust="spacingAndGlyphs">Depth (cm)</text>
<path d="M429.50,682.17 C428.85,688.29 408.35,712.30 425.60,718.93 C457.47,731.19 619.57,743.44 620.70,755.70 C621.83,767.96 464.62,780.21 432.40,792.47 C415.06,799.06 410.74,821.07 427.40,829.23 C452.40,841.49 556.57,859.87 582.40,866.00" stroke="#4A7EBB" stroke-width="3.50" fill="none" stroke-linejoin="round" stroke-linecap="round"/>
<circle cx="429.50" cy="682.17" r="4.65" fill="#4A7EBB"/>
<circle cx="425.60" cy="718.93" r="4.65" fill="#4A7EBB"/>
<circle cx="620.70" cy="755.70" r="4.65" fill="#4A7EBB"/>
<circle cx="432.40" cy="792.47" r="4.65" fill="#4A7EBB"/>
<circle cx="427.40" cy="829.23" r="4.65" fill="#4A7EBB"/>
<circle cx="582.40" cy="866.00" r="4.65" fill="#4A7EBB"/>
<path d="M431.00,682.17 C435.60,688.29 438.29,708.17 458.60,718.93 C481.72,731.19 574.70,743.44 569.70,755.70 C564.70,767.96 444.05,780.21 428.60,792.47 C413.15,804.72 468.37,816.98 477.00,829.23 C485.63,841.49 479.83,859.87 480.40,866.00" stroke="#BE4B48" stroke-width="3.50" fill="none" stroke-linejoin="round" stroke-linecap="round"/>
<circle cx="431.00" cy="682.17" r="4.65" fill="#BE4B48"/>
<circle cx="458.60" cy="718.93" r="4.65" fill="#BE4B48"/>
<circle cx="569.70" cy="755.70" r="4.65" fill="#BE4B48"/>
<circle cx="428.60" cy="792.47" r="4.65" fill="#BE4B48"/>
<circle cx="477.00" cy="829.23" r="4.65" fill="#BE4B48"/>
<circle cx="480.40" cy="866.00" r="4.65" fill="#BE4B48"/>
<path d="M579.8,685.4H609.2" stroke="#4A7EBB" stroke-width="3.50" fill="none" stroke-linecap="round"/>
<circle cx="594.40" cy="685.40" r="4.65" fill="#4A7EBB"/>
<text x="614.40" y="689.50" font-size="13.00" text-anchor="start" textLength="37.5" lengthAdjust="spacingAndGlyphs">pH 1.2</text>
<path d="M579.8,714.4H609.2" stroke="#BE4B48" stroke-width="3.50" fill="none" stroke-linecap="round"/>
<circle cx="594.40" cy="714.40" r="4.65" fill="#BE4B48"/>
<text x="614.40" y="718.50" font-size="13.00" text-anchor="start" textLength="37.5" lengthAdjust="spacingAndGlyphs">pH 5.6</text>
</svg>
</body></html>
